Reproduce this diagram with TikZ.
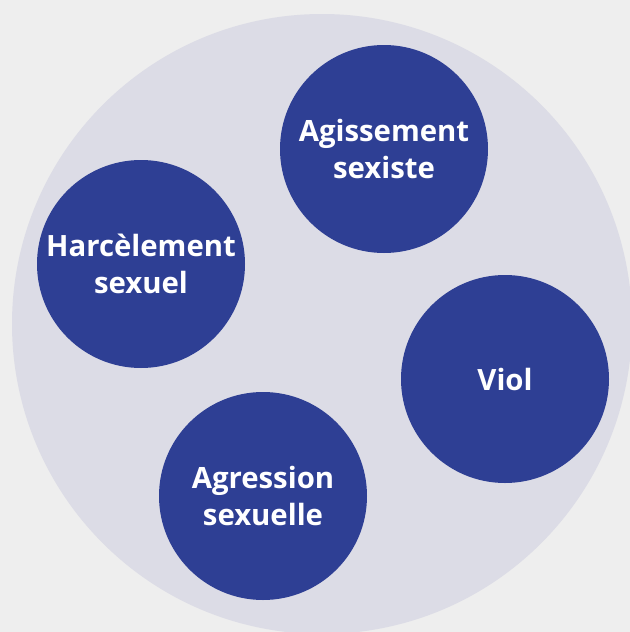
\documentclass[tikz,border=0pt]{standalone}
\usepackage{fontspec}
\setmainfont{Open Sans}

\definecolor{pagegray}{HTML}{EEEEEE}
\definecolor{ringgray}{HTML}{DCDCE6}
\definecolor{dotblue}{HTML}{2E3F94}

\begin{document}
\begin{tikzpicture}[x=0.75pt,y=-0.75pt,
  bubble/.style={circle, fill=dotblue, minimum size=156pt, inner sep=0pt,
    text=white, align=center, font=\fontsize{22}{27.5}\selectfont\bfseries}]
\fill[pagegray] (0,0) rectangle (630,632);
\begin{scope}
\clip (0,0) rectangle (630,632);
\fill[ringgray] (322,324) circle[radius=232.5pt];
\end{scope}

\node[bubble] (agissement) at (384,149) {Agissement\\sexiste};
\node[bubble] (harcelement) at (141,264) {Harcèlement\\sexuel};
\node[bubble] (viol) at (505,379) {Viol};
\node[bubble] (agression) at (263,496) {Agression\\sexuelle};
\end{tikzpicture}
\end{document}
